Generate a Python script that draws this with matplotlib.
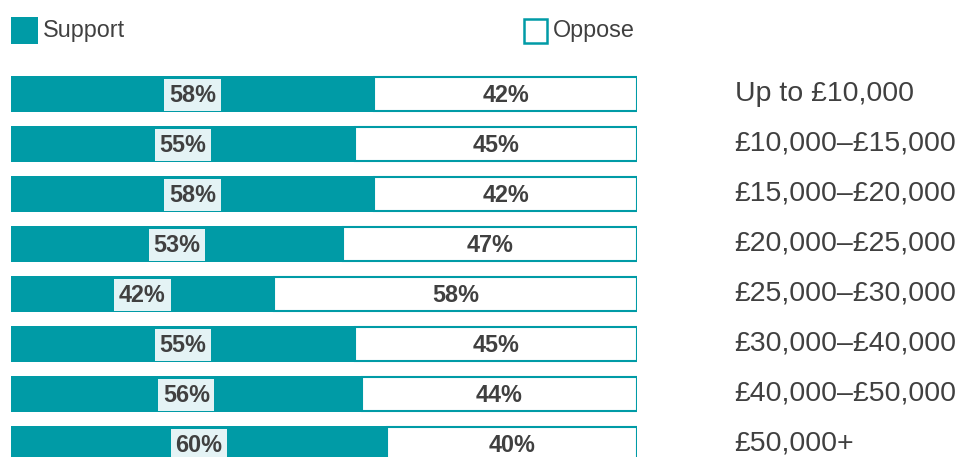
import matplotlib
matplotlib.use("Agg")
import matplotlib.pyplot as plt
from matplotlib.patches import Rectangle

categories = ["Up to £10,000", "£10,000–£15,000", "£15,000–£20,000", "£20,000–£25,000",
              "£25,000–£30,000", "£30,000–£40,000", "£40,000–£50,000", "£50,000+"]
support = [58, 55, 58, 53, 42, 55, 56, 60]
oppose = [42, 45, 42, 47, 58, 45, 44, 40]
series_names = ["Support", "Oppose"]

TEAL = "#009ba6"
TXT = "#404040"
LABEL_BG = "#e4f3f5"

plt.rcParams['font.family'] = ['Liberation Sans', 'DejaVu Sans']

W, H = 961, 457
fig = plt.figure(figsize=(W / 100, H / 100), dpi=100)

left_px, right_px = 11, 637
top_px = 69
rows = len(categories)
bottom_px = top_px + 50 * rows
ax = fig.add_axes([left_px / W, (H - bottom_px) / H, (right_px - left_px) / W, (bottom_px - top_px) / H])
ax.set_xlim(0, 100)
ax.set_ylim(rows - 0.5, -0.5)
ax.axis('off')

ys = list(range(rows))
bh = 0.72
ax.barh(ys, support, height=bh, color=TEAL, edgecolor='none')
ax.barh(ys, oppose, left=support, height=bh - 0.04, color='white', edgecolor=TEAL, linewidth=1.5)

for i, (s, o, c) in enumerate(zip(support, oppose, categories)):
    ax.text(s / 2, i + 0.02, f"{s}%", ha='center', va='center', fontsize=16.8, fontweight='bold', color=TXT,
            bbox=dict(boxstyle='square,pad=0.2', facecolor=LABEL_BG, edgecolor='none'))
    ax.text(s + o / 2, i + 0.02, f"{o}%", ha='center', va='center', fontsize=16.8, fontweight='bold', color=TXT)
    ax.text(115.6, i + 0.0, c, ha='left', va='center', fontsize=20.5, color=TXT, clip_on=False)

def px_rect(x0, y0, x1, y1, **kw):
    fig.patches.append(Rectangle((x0 / W, 1 - y1 / H), (x1 - x0) / W, (y1 - y0) / H,
                                 transform=fig.transFigure, figure=fig, **kw))

px_rect(11, 17, 38, 44, facecolor=TEAL, edgecolor='none')
fig.text(43 / W, 1 - 31 / H, series_names[0], ha='left', va='center', fontsize=16.8, color=TXT)
px_rect(524, 19, 547, 43, facecolor='white', edgecolor=TEAL, linewidth=1.8)
fig.text(553 / W, 1 - 31 / H, series_names[1], ha='left', va='center', fontsize=16.8, color=TXT)

fig.savefig("out.png", dpi=100, facecolor='white')
